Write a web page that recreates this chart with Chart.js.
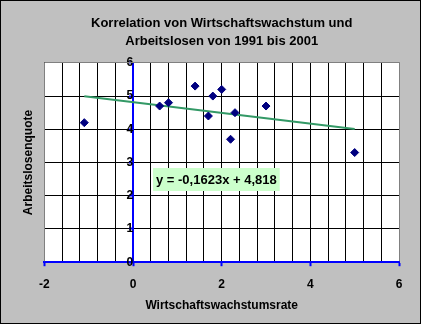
<!DOCTYPE html>
<html>
<head>
<meta charset="utf-8">
<script src="https://cdn.jsdelivr.net/npm/chart.js@4.4.0/dist/chart.umd.min.js"></script>
<style>
  html, body { margin: 0; padding: 0; background: #c0c0c0; }
  canvas { display: block; }
</style>
</head>
<body>
<canvas id="chart" width="421" height="324"></canvas>
<script>
// Data 1991 - 2001
const growthRate = [-1.1, 0.6, 0.8, 1.4, 1.7, 1.8, 2.0, 2.2, 2.3, 3.0, 5.0];
const unemployment = [4.2, 4.7, 4.8, 5.3, 4.4, 5.0, 5.2, 3.7, 4.5, 4.7, 3.3];

// Linear trend line (y = -0,1623x + 4,818), from min x to max x
const trendX = [-1.1, 5.0];
const trendY = [4.997, 4.007];
const equation = "y = -0,1623x + 4,818";

const titleLines = ["Korrelation von Wirtschaftswachstum und", "Arbeitslosen von 1991 bis 2001"];
const xTitle = "Wirtschaftswachstumsrate";
const yTitle = "Arbeitslosenquote";

const FONT = "'Liberation Sans', Arial, sans-serif";
const BLUE = "#0000ff";
const GRAY = "#808080";

Chart.defaults.font.family = FONT;
Chart.defaults.color = "#000000";

const align = (p) => Math.round(p - 0.5) + 0.5;

// gray background, white plot area, outer black frame
const frame = {
  id: "frame",
  beforeDraw(chart) {
    const { ctx, chartArea: a } = chart;
    ctx.save();
    ctx.fillStyle = "#c0c0c0";
    ctx.fillRect(0, 0, chart.width, chart.height);
    ctx.fillStyle = "#ffffff";
    ctx.fillRect(a.left, a.top, a.right - a.left, a.bottom - a.top);
    ctx.strokeStyle = "#000000";
    ctx.lineWidth = 1;
    ctx.strokeRect(0.5, 0.5, chart.width - 1, chart.height - 1);
    ctx.restore();
  },
  beforeDatasetsDraw(chart) {
    const { ctx, chartArea: a } = chart;
    ctx.save();
    ctx.strokeStyle = GRAY;
    ctx.lineWidth = 1;
    ctx.beginPath();
    ctx.moveTo(align(a.left), a.bottom - 1);
    ctx.lineTo(align(a.left), align(a.top));
    ctx.lineTo(align(a.right), align(a.top));
    ctx.lineTo(align(a.right), a.bottom - 1);
    ctx.stroke();
    ctx.restore();
  },
};

// equation box
const eqLabel = {
  id: "eqLabel",
  afterDatasetsDraw(chart) {
    const { ctx, scales } = chart;
    const x = Math.round(scales.x.getPixelForValue(0.44));
    const y = Math.round(scales.y.getPixelForValue(2.84));
    ctx.save();
    ctx.font = "bold 13px " + FONT;
    const w = ctx.measureText(equation).width + 6;
    ctx.fillStyle = "#ccffcc";
    ctx.fillRect(x, y, w, 23);
    ctx.fillStyle = "#000000";
    ctx.textBaseline = "middle";
    ctx.fillText(equation, x + 3, y + 12);
    ctx.restore();
  },
};

const isMajor = (v) => Math.abs(v % 2) < 1e-9;

new Chart(document.getElementById("chart"), {
  type: "scatter",
  data: {
    datasets: [
      {
        label: "Arbeitslosenquote",
        data: growthRate.map((x, i) => ({ x, y: unemployment[i] })),
        pointStyle: "rectRot",
        pointRadius: 4,
        backgroundColor: "#000080",
        borderColor: "#000080",
        borderWidth: 1,
      },
      {
        label: "Trend",
        type: "line",
        data: trendX.map((x, i) => ({ x, y: trendY[i] })),
        borderColor: "#339966",
        borderWidth: 2,
        pointRadius: 0,
        fill: false,
      },
    ],
  },
  options: {
    responsive: false,
    animation: false,
    devicePixelRatio: 1,
    layout: { padding: { left: 20, right: 22, top: 0, bottom: 8 } },
    plugins: {
      legend: { display: false },
      tooltip: { enabled: false },
      title: {
        display: true,
        fullSize: false,
        text: titleLines,
        color: "#000000",
        font: { size: 13, weight: "bold", lineHeight: 1.34 },
        padding: { top: 15, bottom: 13 },
      },
    },
    scales: {
      x: {
        type: "linear",
        position: "bottom",
        min: -2,
        max: 6,
        ticks: {
          stepSize: 0.4,
          autoSkip: false,
          maxRotation: 0,
          padding: 11,
          font: { size: 12, weight: "bold" },
          callback: (v) => (isMajor(v) ? v : ""),
        },
        grid: {
          color: "#000000",
          tickColor: (c) => (c.tick && isMajor(c.tick.value) ? BLUE : "rgba(0,0,0,0)"),
          tickLength: 4,
          tickWidth: 2,
        },
        border: { color: BLUE, width: 2 },
        title: {
          display: true,
          text: xTitle,
          font: { size: 12, weight: "bold" },
          padding: { top: -4, bottom: 3 },
        },
      },
      y: {
        position: "left",
        min: 0,
        max: 6,
        ticks: { display: false, stepSize: 1 },
        grid: {
          color: (c) => (c.tick && c.tick.value === 0 ? "rgba(0,0,0,0)" : "#000000"),
          drawTicks: false,
        },
        border: { display: false },
        title: {
          display: true,
          text: yTitle,
          font: { size: 12, weight: "bold" },
          padding: { top: 1, bottom: 9 },
        },
      },
      y2: {
        position: { x: 0 },
        min: 0,
        max: 6,
        z: 1,
        ticks: { stepSize: 1, padding: 1, font: { size: 12, weight: "bold" } },
        grid: { drawOnChartArea: false, tickColor: BLUE, tickLength: 3, tickWidth: 2 },
        border: { color: BLUE, width: 2 },
      },
    },
  },
  plugins: [frame, eqLabel],
});
</script>
</body>
</html>
